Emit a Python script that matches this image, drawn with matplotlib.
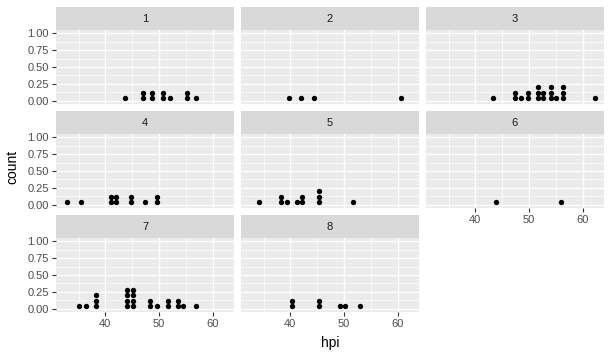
import matplotlib
matplotlib.use("Agg")
import matplotlib.pyplot as plt
from collections import Counter

plt.rcParams["font.family"] = ["Liberation Sans", "DejaVu Sans"]

# dot positions (hpi) per panel, repeated values are stacked dots
panels = ["1", "2", "3", "4", "5", "6", "7", "8"]
hpi_1 = [43.6, 47.1, 47.1, 48.7, 48.7, 50.7, 50.7, 52.1, 55.3, 55.3, 56.9]
hpi_2 = [39.7, 41.9, 44.4, 60.7]
hpi_3 = [43.35, 47.45, 47.45, 48.5, 49.75, 49.75, 51.6, 51.6, 51.6,
         52.55, 52.55, 54.1, 54.1, 54.1, 55.0, 56.4, 56.4, 56.4, 62.3]
hpi_4 = [32.9, 35.5, 41.1, 41.1, 41.9, 41.9, 44.75, 44.75, 47.4, 49.6, 49.6]
hpi_5 = [34.25, 38.2, 38.2, 39.3, 41.2, 42.1, 42.1, 45.3, 45.3, 45.3, 51.7]
hpi_6 = [43.9, 56.0]
hpi_7 = [35.0, 36.4, 38.3, 38.3, 38.3, 44.1, 44.1, 44.1, 44.1,
         45.1, 45.1, 45.1, 45.1, 48.4, 48.4, 49.6, 51.7, 51.7,
         53.6, 53.6, 54.5, 56.9]
hpi_8 = [40.4, 40.4, 45.3, 45.3, 49.2, 50.2, 53.0]
all_hpi = [hpi_1, hpi_2, hpi_3, hpi_4, hpi_5, hpi_6, hpi_7, hpi_8]

y_ticks = [0, 0.25, 0.5, 0.75, 1.0]
y_labels = ["0.00", "0.25", "0.50", "0.75", "1.00"]
x_ticks = [40, 50, 60]
binwidth = 1.0

W, H, dpi = 612, 358, 100
fig = plt.figure(figsize=(W / dpi, H / dpi), dpi=dpi)

col_left = [56, 241, 426]
col_w = 178
row_top = [7, 111, 215]
strip_h = 23
panel_h = 74
xlim = (30.8, 64.0)
ylim = (-0.05, 1.05)

for i, (name, vals) in enumerate(zip(panels, all_hpi)):
    r, c = divmod(i, 3)
    x0 = col_left[c]
    top = row_top[r]
    # strip
    sax = fig.add_axes([x0 / W, 1 - (top + strip_h) / H, col_w / W, strip_h / H])
    sax.set_facecolor("#D9D9D9")
    sax.set_xticks([])
    sax.set_yticks([])
    for s in sax.spines.values():
        s.set_visible(False)
    sax.text(0.5, 0.5, name, ha="center", va="center", fontsize=8, color="#1A1A1A",
             transform=sax.transAxes)

    ax = fig.add_axes([x0 / W, 1 - (top + strip_h + panel_h) / H, col_w / W, panel_h / H])
    ax.set_facecolor("#EBEBEB")
    ax.set_xlim(*xlim)
    ax.set_ylim(*ylim)
    ax.set_xticks(x_ticks)
    ax.set_xticks([35, 45, 55], minor=True)
    ax.set_yticks(y_ticks)
    ax.set_yticks([0.125, 0.375, 0.625, 0.875], minor=True)
    ax.grid(which="major", color="white", linewidth=1.0)
    ax.grid(which="minor", color="white", linewidth=0.5)
    ax.set_axisbelow(True)
    for s in ax.spines.values():
        s.set_visible(False)
    ax.tick_params(which="minor", length=0)
    ax.tick_params(which="major", length=3, width=0.8, color="#333333",
                   labelsize=8, labelcolor="#4D4D4D", pad=2)

    if c == 0:
        ax.set_yticklabels(y_labels)
    else:
        ax.tick_params(axis="y", length=0, labelleft=False)
    if r == 2 or (r == 1 and c == 2):
        ax.set_xticklabels([str(t) for t in x_ticks])
    else:
        ax.tick_params(axis="x", length=0, labelbottom=False)

    # dotplot: stack repeated values
    px_x = col_w / (xlim[1] - xlim[0])
    px_y = panel_h / (ylim[1] - ylim[0])
    d_px = binwidth * px_x
    dy = d_px / px_y
    xs, ys = [], []
    for v, n in Counter(vals).items():
        for k in range(n):
            xs.append(v)
            ys.append((k + 0.5) * dy)
    ax.scatter(xs, ys, s=(d_px * 72 / dpi) ** 2, color="black", linewidths=0, zorder=3)

fig.text(330 / W, 1 - 343 / H, "hpi", ha="center", va="center", fontsize=10, color="black")
fig.text(12 / W, 1 - 167 / H, "count", ha="center", va="center", rotation=90,
         fontsize=10, color="black")

fig.savefig("out.png", dpi=dpi, facecolor="white")
